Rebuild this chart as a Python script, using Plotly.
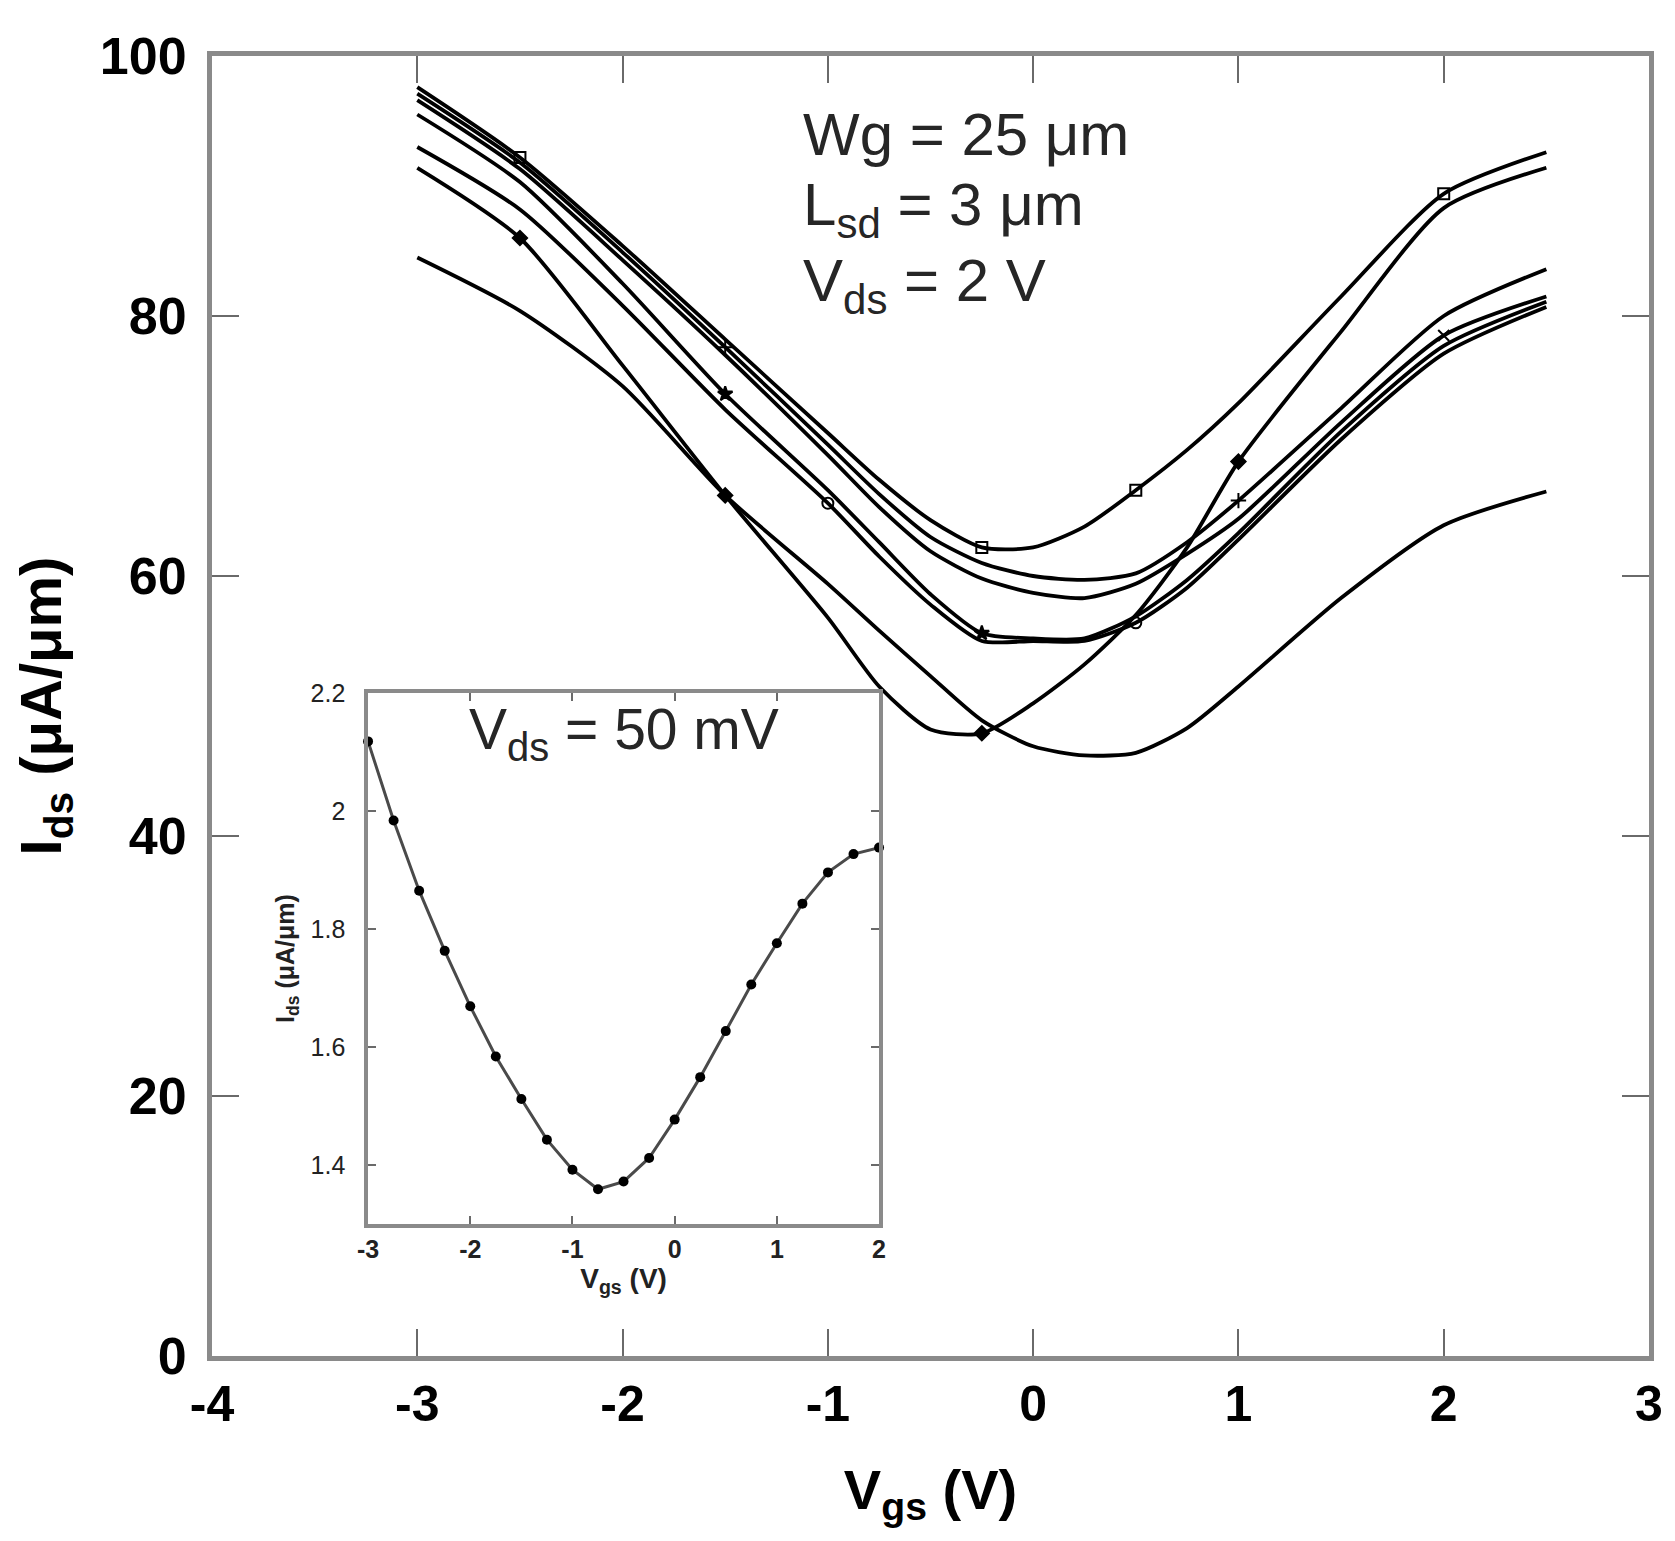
import plotly.graph_objects as go

# ---------------- main chart data (Vds = 2 V) ----------------
vgs = [-3, -2.5, -2, -1.5, -1, -0.75, -0.5, -0.25, 0, 0.25, 0.5, 0.75, 1, 1.5, 2, 2.5]

ids_a = [97.6, 92.2, 85.4, 78.2, 71.0, 67.4, 64.3, 62.2, 62.2, 63.8, 66.6, 69.7, 73.3, 81.5, 89.4, 92.6]
ids_b = [97.1, 91.8, 84.9, 77.6, 70.1, 66.3, 63.0, 61.0, 60.0, 59.7, 60.2, 62.6, 65.8, 72.9, 80.0, 83.6]
ids_c = [96.6, 91.3, 84.3, 77.0, 69.3, 65.3, 61.9, 59.8, 58.7, 58.3, 59.4, 61.7, 64.4, 71.8, 78.5, 81.5]
ids_d = [95.5, 90.3, 82.5, 74.0, 66.6, 62.6, 58.6, 55.6, 55.2, 55.2, 56.9, 59.7, 63.3, 71.1, 77.7, 81.1]
ids_e = [93.0, 88.2, 80.8, 72.8, 65.6, 61.5, 57.8, 55.0, 55.0, 55.0, 56.4, 59.1, 62.8, 70.5, 77.1, 80.7]
ids_f = [91.4, 86.0, 76.2, 66.2, 56.8, 51.5, 48.2, 47.9, 50.2, 53.2, 57.0, 62.2, 68.8, 78.8, 88.3, 91.4]
ids_g = [84.5, 80.4, 74.6, 66.2, 59.4, 55.8, 52.3, 48.9, 46.9, 46.2, 46.4, 48.3, 51.5, 58.3, 63.9, 66.5]

series = [ids_a, ids_b, ids_c, ids_d, ids_e, ids_f, ids_g]

# gate voltages at which each device curve carries a symbol
marker_vgs = [
    [-2.5, -0.25, 0.5, 2],
    [-1.5, 1],
    [2],
    [-1.5, -0.25],
    [-1, 0.5],
    [-2.5, -1.5, -0.25, 1],
    [],
]
marker_symbols = ["square-open", "cross-thin", "x-thin", "star", "circle-open", "diamond", "triangle-up"]

x_ticks = [-4, -3, -2, -1, 0, 1, 2, 3]
x_ticktext = ["-4", "-3", "-2", "-1", "0", "1", "2", "3"]
y_ticks = [0, 20, 40, 60, 80, 100]

# ---------------- inset data (Vds = 50 mV) ----------------
inset_vgs = [-3, -2.75, -2.5, -2.25, -2, -1.75, -1.5, -1.25, -1, -0.75, -0.5,
             -0.25, 0, 0.25, 0.5, 0.75, 1, 1.25, 1.5, 1.75, 2]
inset_ids = [2.118, 1.984, 1.865, 1.763, 1.669, 1.584, 1.512, 1.443, 1.392, 1.359, 1.372,
             1.412, 1.477, 1.549, 1.627, 1.706, 1.776, 1.843, 1.896, 1.927, 1.938]
inset_x_ticks = [-3, -2, -1, 0, 1, 2]
inset_x_ticktext = ["-3", "-2", "-1", "0", "1", "2"]
inset_y_ticks = [1.4, 1.6, 1.8, 2.0, 2.2]
inset_y_ticktext = ["1.4", "1.6", "1.8", "2", "2.2"]

FONT = "Liberation Sans, Arial, Helvetica, sans-serif"

fig = go.Figure()

for ys in series:
    fig.add_trace(go.Scatter(
        x=vgs, y=ys, mode="lines",
        line=dict(color="black", width=3.8, shape="spline", smoothing=0.7),
        xaxis="x", yaxis="y", hoverinfo="skip"))

for ys, mx, sym in zip(series, marker_vgs, marker_symbols):
    if not mx:
        continue
    lookup = dict(zip(vgs, ys))
    fig.add_trace(go.Scatter(
        x=mx, y=[lookup[v] for v in mx], mode="markers",
        marker=dict(symbol=sym, size=11, color="black",
                    line=dict(color="black", width=2)),
        xaxis="x", yaxis="y", hoverinfo="skip"))

# inset
fig.add_trace(go.Scatter(
    x=inset_vgs, y=inset_ids, mode="lines+markers",
    line=dict(color="#4a4a4a", width=3),
    marker=dict(symbol="circle", size=10, color="black"),
    cliponaxis=False, xaxis="x2", yaxis="y2", hoverinfo="skip"))

axis_line = dict(showline=True, linecolor="#8a8a8a", showgrid=False, zeroline=False)

fig.update_layout(
    width=1675, height=1541,
    margin=dict(l=204, r=34, t=48, b=193),
    paper_bgcolor="white", plot_bgcolor="white",
    showlegend=False,
    font=dict(family=FONT, color="black"),
    xaxis=dict(
        domain=[0, 1], range=[-4, 3], tickvals=x_ticks, ticktext=x_ticktext,
        ticks="inside", ticklen=27, tickwidth=2, tickcolor="#6a6a6a",
        linewidth=5, mirror="allticks", **axis_line,
        tickfont=dict(family=FONT, size=50, color="black", weight="bold"),
        title=dict(text="V<sub>gs</sub> (V)", standoff=40,
                   font=dict(family=FONT, size=56, color="black", weight="bold")),
    ),
    yaxis=dict(
        domain=[0, 1], range=[0, 100], tickvals=y_ticks,
        ticks="inside", ticklen=27, tickwidth=2, tickcolor="#6a6a6a",
        linewidth=5, mirror="allticks", **axis_line, ticklabelstandoff=10,
        tickfont=dict(family=FONT, size=52, color="black", weight="bold"),
        title=dict(text="I<sub>ds</sub> (μA/μm)", standoff=26,
                   font=dict(family=FONT, size=58, color="black", weight="bold")),
    ),
    xaxis2=dict(
        domain=[0.1086, 0.4642], range=[-3, 2], anchor="y2",
        tickvals=inset_x_ticks, ticktext=inset_x_ticktext,
        ticks="inside", ticklen=8, tickwidth=2, tickcolor="#6a6a6a",
        linewidth=3.5, mirror="allticks", **axis_line,
        tickfont=dict(family=FONT, size=25, color="#222", weight="bold"),
        title=dict(text="V<sub>gs</sub> (V)", standoff=4,
                   font=dict(family=FONT, size=28, color="#222", weight="bold")),
    ),
    yaxis2=dict(
        domain=[0.1015, 0.51], range=[1.3, 2.2], anchor="x2",
        tickvals=inset_y_ticks, ticktext=inset_y_ticktext,
        ticks="inside", ticklen=8, tickwidth=2, tickcolor="#6a6a6a",
        linewidth=3.5, mirror="allticks", **axis_line, ticklabelstandoff=14,
        tickfont=dict(family=FONT, size=25, color="#222"),
        title=dict(text="I<sub>ds</sub> (μA/μm)", standoff=10,
                   font=dict(family=FONT, size=25, color="#222", weight="bold")),
    ),
)

notes = [
    ("Wg = 25 μm", 0.940),
    ("L<sub>sd</sub> = 3 μm", 0.882),
    ("V<sub>ds</sub> = 2 V", 0.824),
]
for txt, yp in notes:
    fig.add_annotation(
        text=txt, xref="paper", yref="paper", x=0.410, y=yp,
        xanchor="left", yanchor="middle", showarrow=False,
        font=dict(family=FONT, size=60, color="#262626"))

fig.add_annotation(
    text="V<sub>ds</sub> = 50 mV", xref="x2 domain", yref="y2 domain",
    x=0.5, y=0.925, xanchor="center", yanchor="middle", showarrow=False,
    font=dict(family=FONT, size=57, color="#262626"))

fig.write_html("out.html")
